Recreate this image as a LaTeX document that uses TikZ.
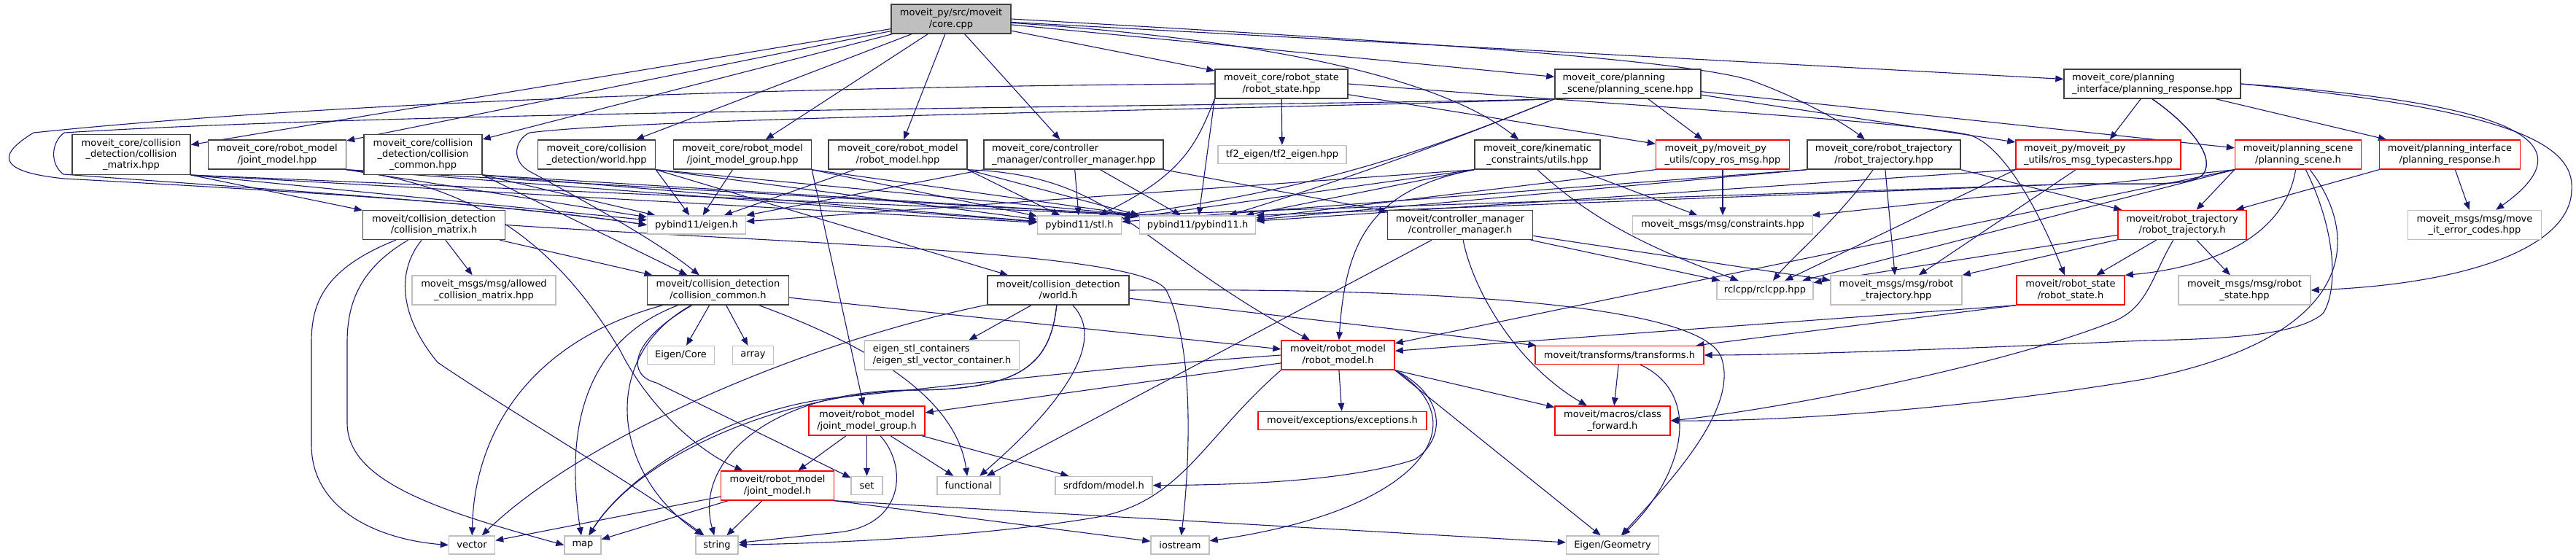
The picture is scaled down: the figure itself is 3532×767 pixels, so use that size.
\documentclass[tikz,border=0pt]{standalone}
\usepackage{fontspec}
\newfontfamily\graphfont{DejaVu Sans}
\usetikzlibrary{arrows.meta,backgrounds}
\definecolor{depline} {HTML}{191970}
\definecolor{boxline} {HTML}{404040}
\definecolor{extline} {HTML}{BFBFBF}
\definecolor{cutline} {HTML}{FF0000}
\definecolor{rootfill}{HTML}{BFBFBF}
\tikzset{
  filebox/.style={
    rectangle, draw=boxline, line width=0.7pt, fill=white,
    text=black, font=\graphfont\fontsize{6.5}{7.65}\selectfont,
    align=center, inner sep=0pt, minimum height=20pt
  },
  extbox/.style={filebox, draw=extline},
  cutbox/.style={filebox, draw=cutline},
  rootbox/.style={filebox, fill=rootfill},
  tallbox/.style={minimum height=27.3pt},
  flatbox/.style={minimum height=12.5pt},
  dep/.style={
    -{Triangle[length=5.5pt, width=4.4pt]}, line width=0.55pt, draw=depline
  }
}

\begin{document}
\begin{tikzpicture}[x=0.5pt, y=-0.5pt]
\useasboundingbox (0,0) rectangle (3532,767);

\node[rootbox, minimum width=82pt] (core) at (1304,26) {moveit\_py/src/moveit\\/core.cpp};

\node[filebox, minimum width=91pt] (rshpp) at (1757,115) {moveit\_core/robot\_state\\/robot\_state.hpp};
\node[filebox, minimum width=100pt, align=left] (pshpp) at (2232,115) {moveit\_core/planning\\\_scene/planning\_scene.hpp};
\node[filebox, minimum width=121pt, align=left] (prhpp) at (2951,115) {moveit\_core/planning\\\_interface/planning\_response.hpp};

\node[filebox, tallbox, minimum width=81pt] (cmhpp) at (180,212) {moveit\_core/collision\\\_detection/collision\\\_matrix.hpp};
\node[filebox, minimum width=94.5pt] (jmhpp) at (380,212) {moveit\_core/robot\_model\\/joint\_model.hpp};
\node[filebox, tallbox, minimum width=81pt] (cchpp) at (580,212) {moveit\_core/collision\\\_detection/collision\\\_common.hpp};
\node[filebox, minimum width=80.5pt] (worldhpp) at (818,212) {moveit\_core/collision\\\_detection/world.hpp};
\node[filebox, minimum width=94.5pt] (jmghpp) at (1018,212) {moveit\_core/robot\_model\\/joint\_model\_group.hpp};
\node[filebox, minimum width=95pt] (rmhpp) at (1231,212) {moveit\_core/robot\_model\\/robot\_model.hpp};
\node[filebox, minimum width=123pt, align=left] (cmgrhpp) at (1472,212) {moveit\_core/controller\\\_manager/controller\_manager.hpp};
\node[extbox, flatbox, minimum width=88pt] (tfeigen) at (1758,212) {tf2\_eigen/tf2\_eigen.hpp};
\node[filebox, minimum width=86pt] (kinhpp) at (2108,212) {moveit\_core/kinematic\\\_constraints/utils.hpp};
\node[cutbox, minimum width=91.5pt, align=left] (copyros) at (2362,212) {moveit\_py/moveit\_py\\\_utils/copy\_ros\_msg.hpp};
\node[filebox, minimum width=105pt] (rthpp) at (2583,212) {moveit\_core/robot\_trajectory\\/robot\_trajectory.hpp};
\node[cutbox, minimum width=113pt, align=left] (rostc) at (2877,212) {moveit\_py/moveit\_py\\\_utils/ros\_msg\_typecasters.hpp};
\node[cutbox, minimum width=86.5pt] (psh) at (3151,212) {moveit/planning\_scene\\/planning\_scene.h};
\node[cutbox, minimum width=96.5pt] (prh) at (3359,212) {moveit/planning\_interface\\/planning\_response.h};

\node[filebox, minimum width=97.5pt] (cmh) at (595,308.5) {moveit/collision\_detection\\/collision\_matrix.h};
\node[extbox, flatbox, minimum width=67.5pt] (eigenh) at (955,308.5) {pybind11/eigen.h};
\node[extbox, flatbox, minimum width=57.5pt] (stlh) at (1480,308.5) {pybind11/stl.h};
\node[extbox, flatbox, minimum width=79.5pt] (pybh) at (1642,308.5) {pybind11/pybind11.h};
\node[filebox, minimum width=99.5pt] (cmgrh) at (2002,308.5) {moveit/controller\_manager\\/controller\_manager.h};
\node[extbox, flatbox, minimum width=123.5pt] (constr) at (2362,308.5) {moveit\_msgs/msg/constraints.hpp};
\node[cutbox, minimum width=88pt] (rth) at (2992,308.5) {moveit/robot\_trajectory\\/robot\_trajectory.h};
\node[extbox, minimum width=91.5pt] (errc) at (3393,308.5) {moveit\_msgs/msg/move\\\_it\_error\_codes.hpp};

\node[extbox, minimum width=98.5pt] (acm) at (663.5,398) {moveit\_msgs/msg/allowed\\\_collision\_matrix.hpp};
\node[filebox, minimum width=97pt] (cch) at (984.5,398) {moveit/collision\_detection\\/collision\_common.h};
\node[filebox, minimum width=97pt] (worldh) at (1451,398) {moveit/collision\_detection\\/world.h};
\node[extbox, flatbox, minimum width=66pt] (rclcpp) at (2420,398) {rclcpp/rclcpp.hpp};
\node[extbox, minimum width=90pt] (rtmsg) at (2600,398) {moveit\_msgs/msg/robot\\\_trajectory.hpp};
\node[cutbox, minimum width=74pt] (rsh) at (2839,398) {moveit/robot\_state\\/robot\_state.h};
\node[extbox, minimum width=90.5pt] (rsmsg) at (3077.5,398) {moveit\_msgs/msg/robot\\\_state.hpp};

\node[extbox, flatbox, minimum width=46pt] (ecore) at (933.5,487) {Eigen/Core};
\node[extbox, flatbox, minimum width=28pt] (array) at (1032.5,487) {array};
\node[extbox, minimum width=106pt, align=left] (estl) at (1291.5,487) {eigen\_stl\_containers\\/eigen\_stl\_vector\_container.h};
\node[cutbox, minimum width=77.5pt] (rmh) at (1834.5,487) {moveit/robot\_model\\/robot\_model.h};
\node[cutbox, flatbox, minimum width=115.5pt] (tfh) at (2220.5,487) {moveit/transforms/transforms.h};

\node[cutbox, minimum width=79.5pt] (jmgh) at (1188.5,577) {moveit/robot\_model\\/joint\_model\_group.h};
\node[cutbox, flatbox, minimum width=115.5pt] (exch) at (1840.5,577) {moveit/exceptions/exceptions.h};
\node[cutbox, minimum width=79pt] (cfh) at (2211,577) {moveit/macros/class\\\_forward.h};

\node[cutbox, minimum width=77.5pt] (jmh) at (1066,666) {moveit/robot\_model\\/joint\_model.h};
\node[extbox, flatbox, minimum width=21.5pt] (set) at (1188.5,666) {set};
\node[extbox, flatbox, minimum width=43pt] (func) at (1328,666) {functional};
\node[extbox, flatbox, minimum width=66.5pt] (srdf) at (1513.5,666) {srdfdom/model.h};

\node[extbox, flatbox, minimum width=31.5pt] (vector) at (647,747.5) {vector};
\node[extbox, flatbox, minimum width=25pt] (map) at (799,747.5) {map};
\node[extbox, flatbox, minimum width=29pt] (string) at (983,747.5) {string};
\node[extbox, flatbox, minimum width=40pt] (iostream) at (1618,747.5) {iostream};
\node[extbox, flatbox, minimum width=63.5pt] (egeom) at (2211,747.5) {Eigen/Geometry};

\begin{scope}[on background layer, every edge/.style={dep}]
\path (core) edge (cmhpp) edge (jmhpp) edge (cchpp) edge (worldhpp) edge (jmghpp) edge (rmhpp) edge (cmgrhpp) edge (rshpp) edge (pshpp) edge (prhpp);
\draw[dep] (core) .. controls (1750,55) and (1980,110) .. (kinhpp);
\draw[dep] (core.east) .. controls (1900,55) and (2300,80) .. (2400,110) .. controls (2470,135) and (2530,170) .. (rthpp);

\path (rshpp) edge (tfeigen) edge (copyros);
\path (rshpp.south west) edge (pybh);
\draw[dep] (rshpp.south west) .. controls (1640,200) and (1620,240) .. (stlh);
\draw[dep] (rshpp.east) .. controls (2300,150) and (2600,165) .. (2700,185) .. controls (2750,200) and (2800,300) .. (rsh);
\draw[dep] (rshpp.west) .. controls (1200,118) and (500,135) .. (46,182) .. controls (0,210) and (-10,235) .. (88,245) .. controls (400,262) and (700,280) .. (eigenh.west);

\path (pshpp) edge (copyros) edge (rostc) edge (psh);
\draw[dep] (pshpp.south west) .. controls (1950,210) and (1800,260) .. (stlh.north east);
\draw[dep] (pshpp.south west) .. controls (1950,210) and (1800,260) .. (pybh);
\draw[dep] (pshpp.south west) .. controls (1800,145) and (600,150) .. (88,182) .. controls (70,195) and (68,225) .. (87,239) .. controls (300,255) and (700,280) .. (eigenh.west);
\draw[dep] (pshpp.south west) .. controls (1750,150) and (900,160) .. (726,182) .. controls (705,192) and (700,222) .. (728,236) .. controls (800,275) and (900,330) .. (cch);

\path (prhpp) edge (rostc) edge (prh);
\draw[dep] (prhpp.south) .. controls (3000,170) and (3040,215) .. (3020,240) .. controls (3000,255) and (2950,252) .. (2850,252) -- (stlh.north east);
\draw[dep] (prhpp.south) .. controls (3000,170) and (3040,215) .. (3020,240) .. controls (3000,255) and (2950,252) .. (2850,252) -- (pybh.north east);
\draw[dep] (prhpp.east) .. controls (3430,140) and (3560,190) .. (errc);
\draw[dep] (prhpp.east) .. controls (3450,150) and (3530,200) .. (3526,260) .. controls (3525,340) and (3380,390) .. (rsmsg.east);

\path (cmhpp.south east) edge (eigenh) edge (stlh) edge (pybh.north west) edge (cmh);
\path (jmhpp.south east) edge (eigenh) edge (stlh) edge (pybh.north west);
\draw[dep] (jmhpp.south east) .. controls (650,255) and (760,330) .. (850,480) .. controls (890,560) and (960,620) .. (jmh);
\path (cchpp.south east) edge (eigenh) edge (stlh) edge (pybh.north west) edge (cch);
\path (worldhpp.south east) edge (eigenh) edge (stlh) edge (pybh.north west) edge (worldh);
\path (jmghpp) edge (eigenh);
\path (jmghpp.south east) edge (stlh) edge (pybh.north west) edge (jmgh);
\path (rmhpp) edge (eigenh);
\path (rmhpp.south east) edge (stlh) edge (pybh.north west);
\draw[dep] (rmhpp.south east) .. controls (1530,240) and (1560,340) .. (rmh);
\path (cmgrhpp.south west) edge (eigenh);
\path (cmgrhpp) edge (stlh) edge (pybh);
\path (cmgrhpp.south east) edge (cmgrh);
\path (kinhpp.south west) edge (eigenh) edge (stlh) edge (pybh);
\path (kinhpp) edge (constr);
\draw[dep] (kinhpp.south) .. controls (2180,300) and (2260,340) .. (rclcpp);
\draw[dep] (kinhpp.south west) .. controls (1880,260) and (1845,330) .. (rmh);
\path (copyros.south west) edge (pybh);
\path (copyros) edge (constr);
\path (rthpp.south west) edge (stlh) edge (pybh);
\path (rthpp) edge (rtmsg);
\path (rthpp.south east) edge (rth);
\draw[dep] (rthpp) .. controls (2520,300) and (2460,350) .. (rclcpp);
\path (rostc.south west) edge (pybh) edge (rclcpp);
\path (rostc) edge (rtmsg);
\path (psh.south west) edge (rth) edge (constr) edge (rclcpp) edge (rmh);
\draw[dep] (psh) .. controls (3130,340) and (3000,370) .. (rsh.north east);
\draw[dep] (psh) .. controls (3205,320) and (3205,400) .. (3185,430) .. controls (3150,460) and (3050,465) .. (2940,467) .. controls (2700,478) and (2450,487) .. (tfh.east);
\draw[dep] (psh) .. controls (3235,320) and (3240,460) .. (2940,520) .. controls (2700,560) and (2450,578) .. (cfh.east);
\path (prh.south west) edge (rth);
\path (prh) edge (errc);

\path (cmh) edge (acm) edge (cch);
\draw[dep] (cmh) .. controls (440,370) and (427,420) .. (427,470) -- (427,610) .. controls (427,700) and (520,740) .. (vector.west);
\draw[dep] (cmh) .. controls (490,370) and (476,420) .. (476,470) -- (476,580) .. controls (476,660) and (600,700) .. (map.west);
\draw[dep] (cmh) .. controls (545,370) and (545,430) .. (600,497) .. controls (700,565) and (880,670) .. (string);
\draw[dep] (cmh.east) .. controls (1100,335) and (1580,345) .. (1600,400) .. controls (1640,480) and (1630,650) .. (iostream);
\path (cmgrh) edge (func) edge (rclcpp) edge (rtmsg);
\draw[dep] (cmgrh) .. controls (2020,400) and (2080,500) .. (cfh);
\path (rth) edge (rsh) edge (rtmsg) edge (rclcpp) edge (rsmsg);
\draw[dep] (rth) .. controls (2950,380) and (2945,420) .. (2900,440) .. controls (2750,500) and (2450,560) .. (cfh.east);

\path (cch) edge (ecore) edge (array) edge (rmh);
\draw[dep] (cch) .. controls (720,470) and (650,600) .. (vector);
\draw[dep] (cch) .. controls (820,460) and (770,560) .. (map);
\draw[dep] (cch) .. controls (820,490) and (840,650) .. (string);
\draw[dep] (cch) .. controls (860,470) and (860,515) .. (900,525) -- (set);
\draw[dep] (cch) .. controls (1180,470) and (1310,540) .. (func);
\path (worldh) edge (estl) edge (tfh);
\draw[dep] (worldh) .. controls (1100,470) and (800,600) .. (vector);
\draw[dep] (worldh) .. controls (1440,500) and (1400,535) .. (1250,535) .. controls (1080,540) and (880,620) .. (map);
\draw[dep] (worldh) .. controls (1440,500) and (1400,535) .. (1250,535) .. controls (1060,535) and (950,630) .. (string);
\draw[dep] (worldh) .. controls (1520,470) and (1450,560) .. (func);
\draw[dep] (worldh.east) .. controls (1900,395) and (2330,410) .. (2360,490) .. controls (2385,560) and (2290,660) .. (egeom);
\path (rsh.south west) edge (rmh) edge (tfh);

\path (rmh) edge (exch) edge (jmgh);
\path (rmh.south east) edge (cfh) edge (egeom);
\draw[dep] (rmh.south east) .. controls (1980,540) and (1985,600) .. (1940,630) .. controls (1850,660) and (1700,665) .. (srdf);
\draw[dep] (rmh.south east) .. controls (2030,580) and (1950,700) .. (iostream);
\draw[dep] (rmh.south west) .. controls (1650,600) and (1620,690) .. (1500,710) .. controls (1350,735) and (1150,745) .. (string);
\draw[dep] (rmh.west) .. controls (1500,505) and (1300,530) .. (1150,545) .. controls (1000,560) and (860,650) .. (map);
\path (tfh) edge (cfh);
\draw[dep] (tfh) .. controls (2335,540) and (2310,650) .. (egeom);

\path (jmgh) edge (jmh) edge (set) edge (func) edge (srdf);
\draw[dep] (jmgh) .. controls (1245,640) and (1240,720) .. (1150,730) -- (string);
\path (jmh) edge (vector) edge (map) edge (string);
\path (jmh.south east) edge (iostream) edge (egeom);
\end{scope}
\end{tikzpicture}
\end{document}
